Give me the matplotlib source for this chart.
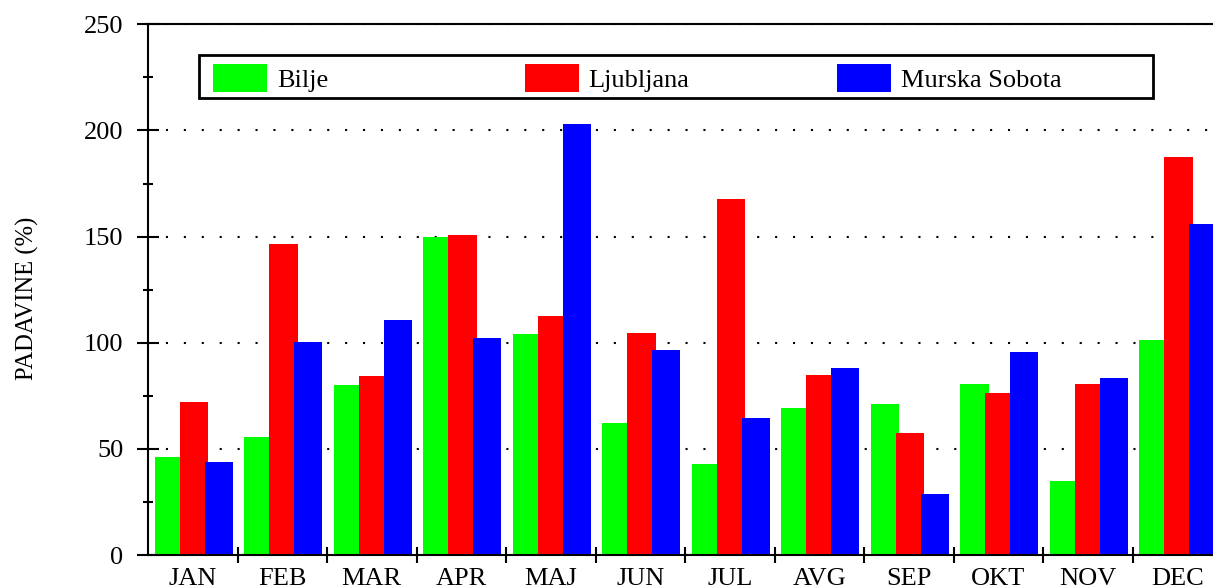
import matplotlib
matplotlib.use("Agg")
import matplotlib.pyplot as plt
from matplotlib.patches import Rectangle
from matplotlib.ticker import FixedLocator, NullFormatter, FixedFormatter
import numpy as np

months = ["JAN", "FEB", "MAR", "APR", "MAJ", "JUN", "JUL", "AVG", "SEP", "OKT", "NOV", "DEC"]
series_names = ["Bilje", "Ljubljana", "Murska Sobota"]
bilje = [46, 55.5, 80, 149.6, 104.2, 62, 42.7, 69.2, 71, 80.4, 34.8, 101.5]
ljubljana = [72.2, 146.5, 84.3, 150.7, 112.8, 104.4, 167.6, 84.7, 57.6, 76.3, 80.5, 187.4]
murska_sobota = [43.9, 100.3, 110.6, 102.3, 203, 96.5, 64.4, 88, 28.6, 95.7, 83.2, 156]
colors = ["#00ff00", "#ff0000", "#0000ff"]
y_label = "PADAVINE (%)"

plt.rcParams["font.family"] = ["Liberation Serif", "DejaVu Serif"]
plt.rcParams["lines.scale_dashes"] = False

W, H = 1213, 586
fig = plt.figure(figsize=(W / 100, H / 100), dpi=100)

ax_left, ax_right, ax_top, ax_bottom = 148, 1222, 24.3, 555
ax = fig.add_axes([ax_left / W, 1 - ax_bottom / H, (ax_right - ax_left) / W, (ax_bottom - ax_top) / H])

x = np.arange(len(months))
bar_w = 0.316
offsets = [0.235, 0.514, 0.79]
for vals, off, c in zip([bilje, ljubljana, murska_sobota], offsets, colors):
    ax.bar(x + off, vals, width=bar_w, color=c, edgecolor="none", linewidth=0, zorder=2)

ax.set_xlim(0, len(months))
ax.set_ylim(0, 250)

# y ticks
ax.set_yticks(np.arange(0, 251, 50))
ax.yaxis.set_minor_locator(FixedLocator(np.arange(25, 250, 50)))
ax.tick_params(axis="y", which="major", direction="inout", length=15.3, width=1.5, labelsize=19, pad=10)
ax.tick_params(axis="y", which="minor", direction="inout", length=7.7, width=1.5)

# x ticks: boundaries as major ticks, labels at centers
ax.xaxis.set_major_locator(FixedLocator(np.arange(1, len(months))))
ax.xaxis.set_major_formatter(NullFormatter())
ax.xaxis.set_minor_locator(FixedLocator(x + 0.5))
ax.xaxis.set_minor_formatter(FixedFormatter(months))
ax.tick_params(axis="x", which="major", direction="inout", length=11, width=1.5)
ax.tick_params(axis="x", which="minor", length=0, labelsize=19, pad=9.5)

for s in ["left", "bottom", "top"]:
    ax.spines[s].set_linewidth(1.5)
ax.spines["right"].set_visible(False)

ax.set_axisbelow(True)
ax.yaxis.grid(True, which="major", color="black", linestyle=(0, (1.5, 11.4)), linewidth=1.5)

fig.text(27 / W, 1 - 298 / H, y_label, rotation=90, ha="center", va="center", fontsize=17.7)

# Legend (manual, evenly spaced columns)
def fx(px):
    return px / W

def fy(py):
    return 1 - py / H

box = Rectangle((fx(199), fy(98.3)), fx(1152.7) - fx(199), fy(55) - fy(98.3),
                transform=fig.transFigure, facecolor="white", edgecolor="black", linewidth=2, zorder=5)
fig.add_artist(box)
patch_x = [213.3, 525, 837.3]
patch_w = 54
for px, name, c in zip(patch_x, series_names, colors):
    fig.add_artist(Rectangle((fx(px), fy(92.3)), fx(px + patch_w) - fx(px), fy(64) - fy(92.3),
                             transform=fig.transFigure, facecolor=c, edgecolor="none", zorder=6))
    fig.text(fx(px + patch_w + 9.5), fy(86.7), name, fontsize=19, ha="left", va="baseline", zorder=7)

fig.savefig("out.png", dpi=100)
